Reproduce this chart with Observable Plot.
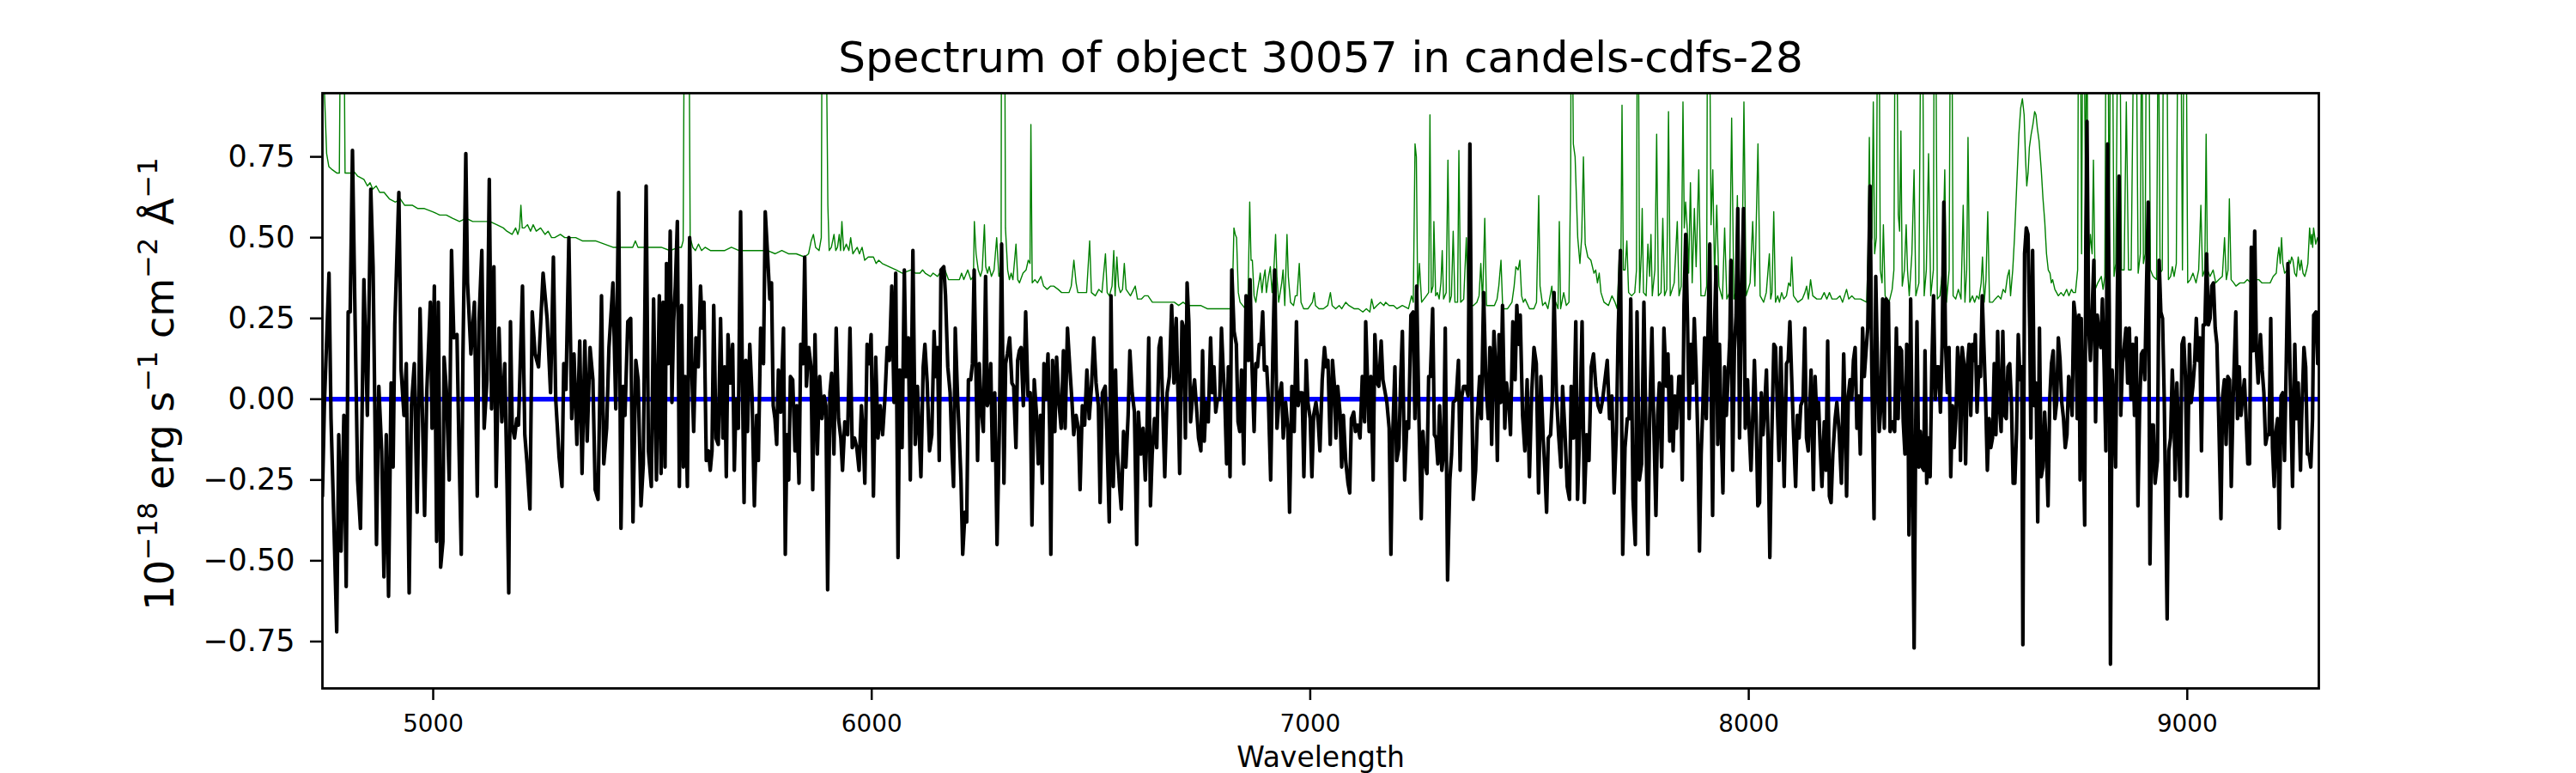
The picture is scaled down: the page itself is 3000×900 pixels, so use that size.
<!DOCTYPE html>
<html>
<head>
<meta charset="utf-8">
<script src="https://cdn.jsdelivr.net/npm/d3@7"></script>
<script src="https://cdn.jsdelivr.net/npm/@observablehq/plot@0.6"></script>
<style>
  html, body { margin: 0; padding: 0; background: #fff; overflow: hidden; }
  #chart { width: 3000px; height: 900px; }
</style>
</head>
<body>
<div id="chart"></div>
<script>
const titleText = "Spectrum of object 30057 in candels-cdfs-28";
const xLabelText = "Wavelength";
const yLabelPlain = "10-18 erg s-1 cm-2 Å-1";
const xTicks = [5000, 6000, 7000, 8000, 9000];
const yTicks = [-0.75, -0.5, -0.25, 0, 0.25, 0.5, 0.75];
const xDomain = [4747.4, 9300];
const yDomain = [-0.895, 0.947];

// model (blue) continuum
const modelPoints = [[4747.4, 0], [9300, 0]];

// observed flux (black) [wavelength, flux]
const fluxPoints = [
[4747.4,-0.30],[4752.0,-0.01],[4762.4,0.39],[4767.0,-0.06],[4773.5,-0.38],[4780.0,-0.72],[4784.6,-0.11],[4789.8,-0.47],[4796.3,-0.05],[4801.6,-0.58],
[4806.1,0.27],[4810.7,0.27],[4815.9,0.77],[4821.1,0.31],[4827.7,-0.25],[4834.2,-0.40],[4842.0,0.37],[4849.9,-0.05],[4857.7,0.65],[4862.9,0.41],
[4870.7,-0.45],[4876.0,0.04],[4882.5,-0.16],[4887.7,-0.55],[4893.0,-0.11],[4898.2,-0.61],[4904.0,0.05],[4908.6,-0.21],[4912.5,0.23],[4921.7,0.64],
[4926.9,0.09],[4933.4,-0.05],[4938.6,0.11],[4945.2,-0.60],[4950.4,-0.02],[4956.9,0.11],[4963.4,-0.35],[4970.0,0.28],[4975.2,-0.03],[4980.4,-0.36],
[4985.6,0.03],[4993.5,0.30],[4997.4,-0.09],[5002.6,0.35],[5007.8,-0.44],[5011.7,0.30],[5017.0,-0.52],[5022.2,-0.44],[5024.8,0.13],[5030.0,0.03],
[5036.5,-0.25],[5041.8,0.46],[5047.0,0.19],[5054.2,0.20],[5058.7,-0.14],[5064.0,-0.48],[5067.9,0.14],[5074.4,0.76],[5078.3,0.36],[5086.1,0.14],
[5094.0,0.30],[5100.5,-0.30],[5104.4,0.24],[5110.9,0.46],[5116.2,-0.09],[5122.7,0.06],[5127.9,0.68],[5133.1,-0.03],[5138.4,0.41],[5143.6,-0.27],
[5150.1,0.22],[5156.6,-0.07],[5163.2,0.11],[5168.4,-0.26],[5172.3,-0.60],[5176.2,0.24],[5180.1,-0.08],[5185.4,-0.12],[5190.6,-0.06],[5194.5,-0.08],
[5203.6,0.35],[5208.9,-0.11],[5214.1,-0.20],[5220.6,-0.34],[5225.8,0.27],[5232.4,0.14],[5240.2,0.10],[5250.6,0.39],[5259.8,0.25],[5267.6,0.02],
[5274.1,0.44],[5279.4,0.00],[5287.2,-0.18],[5293.7,-0.27],[5297.7,0.11],[5302.8,0.03],[5309.4,0.50],[5315.9,-0.06],[5321.1,0.14],[5327.7,-0.14],
[5334.2,0.18],[5339.4,-0.23],[5345.9,0.18],[5351.1,-0.13],[5357.7,0.16],[5364.2,0.06],[5369.4,-0.28],[5375.9,-0.31],[5383.8,0.32],[5389.0,-0.20],
[5395.5,-0.09],[5400.8,0.16],[5409.9,0.36],[5416.4,-0.03],[5422.9,0.64],[5428.2,-0.40],[5433.4,0.04],[5437.3,-0.05],[5443.8,0.24],[5450.4,0.25],
[5455.6,-0.38],[5462.1,0.12],[5467.3,0.06],[5473.9,-0.33],[5479.1,-0.20],[5485.6,0.66],[5490.8,-0.16],[5497.4,-0.27],[5502.6,0.31],[5509.1,-0.25],
[5515.6,0.32],[5519.6,-0.23],[5524.1,0.30],[5528.7,-0.21],[5532.0,0.42],[5535.9,0.11],[5540.5,0.52],[5544.4,-0.01],[5548.3,0.24],[5552.2,0.35],
[5556.8,0.55],[5561.3,-0.27],[5566.6,0.29],[5570.5,-0.21],[5574.4,0.07],[5579.6,-0.27],[5584.8,0.50],[5590.1,0.07],[5594.0,-0.10],[5599.2,0.19],
[5604.4,0.10],[5609.6,0.35],[5613.6,0.22],[5617.5,0.30],[5622.7,-0.19],[5627.9,-0.16],[5631.8,-0.22],[5635.8,-0.16],[5639.7,0.29],[5644.9,-0.12],
[5650.1,-0.14],[5655.3,0.25],[5660.6,-0.12],[5664.5,0.10],[5668.4,-0.24],[5672.3,0.20],[5677.5,0.05],[5682.8,0.17],[5686.7,-0.22],[5690.6,0.00],
[5695.8,-0.09],[5701.0,0.58],[5705.0,0.07],[5708.9,-0.32],[5712.8,0.12],[5716.7,-0.10],[5721.9,0.17],[5727.1,0.01],[5732.4,-0.33],[5737.6,-0.05],
[5741.5,-0.19],[5746.7,0.22],[5753.2,0.11],[5757.2,0.58],[5762.4,0.45],[5767.6,0.31],[5771.5,0.36],[5775.4,-0.02],[5779.4,-0.06],[5783.3,-0.14],
[5787.2,0.09],[5792.4,-0.04],[5798.9,0.22],[5802.9,-0.48],[5806.8,-0.11],[5810.7,-0.25],[5814.6,0.07],[5819.8,0.06],[5825.0,-0.16],[5829.0,-0.02],
[5834.2,-0.26],[5838.1,0.17],[5843.3,0.11],[5847.2,0.44],[5851.1,0.04],[5856.4,0.16],[5861.6,0.10],[5865.5,-0.28],[5870.7,0.20],[5876.0,-0.17],
[5881.2,0.07],[5886.4,-0.06],[5891.6,0.01],[5895.5,-0.02],[5899.5,-0.59],[5904.7,0.02],[5908.6,0.08],[5913.8,-0.17],[5919.0,0.22],[5924.3,-0.06],
[5929.5,-0.12],[5933.4,-0.22],[5938.6,-0.07],[5945.1,-0.11],[5950.4,0.22],[5955.6,-0.15],[5960.8,-0.12],[5966.0,-0.15],[5971.2,-0.22],[5976.5,-0.02],
[5980.4,-0.11],[5984.3,-0.26],[5989.5,0.17],[5994.7,0.11],[5998.6,0.20],[6003.9,-0.30],[6009.1,0.13],[6014.3,-0.12],[6019.5,-0.02],[6024.8,-0.11],
[6030.0,0.00],[6035.2,0.16],[6040.4,0.12],[6045.7,0.35],[6050.9,-0.01],[6054.8,0.39],[6060.0,-0.49],[6063.9,0.09],[6069.2,-0.15],[6074.4,0.40],
[6078.3,0.07],[6083.5,0.19],[6088.0,-0.25],[6093.9,0.46],[6099.1,-0.14],[6104.3,0.04],[6108.3,-0.11],[6112.2,-0.24],[6117.4,0.10],[6121.3,0.17],
[6126.5,0.05],[6131.8,-0.16],[6137.0,-0.11],[6142.2,0.21],[6146.1,0.07],[6150.0,0.16],[6154.0,-0.19],[6157.9,0.40],[6164.4,0.41],[6168.3,0.32],
[6173.5,0.10],[6178.8,0.02],[6182.7,-0.15],[6186.6,-0.27],[6190.5,0.22],[6195.7,0.01],[6199.6,-0.11],[6203.6,-0.25],[6207.5,-0.48],[6212.7,-0.35],
[6216.6,-0.38],[6220.5,0.06],[6225.7,0.06],[6229.7,0.11],[6233.6,0.40],[6237.5,0.10],[6241.4,-0.19],[6245.3,0.11],[6249.2,-0.02],[6254.5,-0.10],
[6259.7,0.38],[6263.6,-0.02],[6267.5,0.00],[6271.4,0.11],[6275.4,-0.19],[6280.6,0.02],[6285.8,-0.45],[6291.0,-0.10],[6296.2,0.48],[6301.5,-0.26],
[6305.4,0.11],[6309.3,0.14],[6314.5,0.19],[6319.7,0.05],[6323.7,0.04],[6328.9,-0.15],[6332.8,0.12],[6336.7,0.15],[6340.6,0.16],[6345.8,-0.02],
[6351.1,0.27],[6356.3,0.01],[6361.5,0.02],[6365.4,-0.39],[6370.6,0.06],[6375.9,-0.05],[6379.8,-0.20],[6385.0,-0.05],[6388.9,-0.26],[6392.8,0.11],
[6396.8,0.00],[6402.0,0.14],[6405.9,-0.10],[6408.5,-0.48],[6412.4,0.12],[6417.6,-0.10],[6421.6,0.13],[6426.8,-0.01],[6432.0,-0.09],[6437.2,0.15],
[6441.1,-0.09],[6446.4,0.22],[6451.6,0.10],[6456.8,-0.01],[6460.7,-0.11],[6466.0,-0.05],[6471.2,-0.09],[6475.1,-0.28],[6480.3,-0.02],[6485.5,-0.08],
[6490.7,0.09],[6496.0,-0.06],[6501.2,0.04],[6506.4,0.19],[6511.6,0.05],[6516.9,-0.02],[6520.8,-0.32],[6526.0,0.02],[6532.5,0.04],[6536.4,-0.11],
[6541.7,-0.38],[6545.6,0.32],[6550.8,-0.27],[6556.0,0.09],[6559.9,-0.16],[6565.2,-0.27],[6569.1,-0.34],[6574.3,-0.10],[6579.5,-0.21],[6584.7,-0.05],
[6588.7,0.15],[6593.9,0.02],[6599.1,-0.04],[6604.3,-0.45],[6608.2,-0.04],[6613.5,-0.17],[6618.7,-0.09],[6623.9,-0.25],[6627.8,-0.09],[6631.7,0.19],
[6635.6,-0.33],[6639.6,-0.17],[6644.8,-0.06],[6650.0,-0.15],[6655.2,0.16],[6659.2,0.19],[6664.4,-0.06],[6668.3,-0.24],[6673.6,0.02],[6678.8,0.07],
[6684.0,0.29],[6689.2,0.05],[6694.4,0.25],[6698.4,0.02],[6702.3,-0.23],[6707.5,0.24],[6711.4,0.22],[6715.3,-0.12],[6719.2,0.36],[6723.2,0.24],
[6727.1,-0.07],[6732.3,0.02],[6736.2,0.06],[6741.4,-0.04],[6745.3,-0.12],[6750.6,-0.16],[6754.5,0.15],[6758.4,-0.13],[6762.3,-0.01],[6767.5,-0.07],
[6772.8,0.19],[6776.7,0.02],[6780.6,0.10],[6784.5,-0.04],[6788.4,0.00],[6793.6,0.00],[6797.6,0.22],[6801.5,0.09],[6805.4,-0.01],[6809.3,-0.20],
[6813.2,0.10],[6817.1,-0.24],[6821.1,0.40],[6826.3,0.21],[6831.5,0.17],[6835.4,-0.07],[6839.3,-0.10],[6843.3,0.09],[6848.5,-0.20],[6853.7,0.32],
[6858.9,0.12],[6862.8,0.37],[6866.8,0.12],[6872.0,-0.10],[6875.9,0.11],[6879.8,0.10],[6883.7,0.17],[6887.6,0.17],[6891.6,0.27],[6895.5,0.09],
[6900.7,0.10],[6904.6,0.00],[6909.8,-0.25],[6915.0,0.16],[6919.0,0.40],[6924.2,-0.09],[6929.4,0.01],[6934.6,0.05],[6938.5,-0.12],[6943.8,-0.01],
[6949.0,-0.09],[6952.9,-0.35],[6958.1,0.04],[6963.4,-0.10],[6968.6,0.24],[6972.5,-0.02],[6976.4,0.02],[6981.6,0.02],[6985.5,-0.24],[6990.8,0.12],
[6994.7,-0.01],[6999.9,-0.06],[7003.8,-0.24],[7007.7,-0.05],[7013.0,-0.01],[7018.2,-0.07],[7022.1,-0.16],[7027.3,0.06],[7032.5,0.16],[7036.5,0.10],
[7040.4,0.12],[7045.6,-0.14],[7050.8,0.12],[7054.7,0.05],[7058.6,-0.12],[7062.6,0.04],[7067.8,-0.04],[7071.7,-0.21],[7075.6,-0.05],[7080.8,-0.19],
[7086.1,-0.26],[7090.0,-0.29],[7093.9,-0.06],[7099.1,-0.04],[7103.0,-0.10],[7108.2,-0.08],[7113.5,-0.12],[7118.7,0.07],[7123.9,-0.07],[7126.5,0.24],
[7130.4,0.07],[7134.4,-0.10],[7138.3,0.07],[7143.5,-0.25],[7147.4,0.20],[7152.6,0.05],[7156.5,0.04],[7161.8,0.18],[7165.7,0.06],[7170.9,0.02],
[7174.8,-0.01],[7180.0,-0.09],[7184.0,-0.48],[7187.9,-0.12],[7193.1,0.10],[7197.0,-0.19],[7202.2,-0.15],[7206.2,0.06],[7210.1,0.21],[7215.3,-0.25],
[7220.5,-0.07],[7224.4,-0.09],[7229.6,0.26],[7234.8,0.27],[7238.7,-0.06],[7242.7,0.35],[7247.9,-0.06],[7253.1,-0.37],[7257.0,-0.10],[7260.9,-0.19],
[7266.2,-0.23],[7270.1,0.07],[7274.0,0.07],[7279.2,0.28],[7283.1,-0.11],[7287.0,-0.12],[7291.0,-0.20],[7294.9,-0.02],[7300.1,-0.22],[7304.0,-0.17],
[7307.9,0.22],[7313.2,-0.56],[7318.4,-0.25],[7322.3,-0.17],[7326.2,-0.01],[7332.7,0.00],[7338.0,0.12],[7341.9,-0.22],[7345.8,0.01],[7349.7,0.04],
[7354.9,0.04],[7360.1,0.01],[7364.1,0.79],[7368.0,0.07],[7371.9,-0.31],[7377.1,-0.22],[7381.0,-0.06],[7386.3,0.07],[7390.2,-0.06],[7395.4,0.33],
[7400.6,0.05],[7405.8,-0.06],[7409.7,0.16],[7413.7,-0.14],[7418.9,0.21],[7422.8,0.10],[7426.7,-0.19],[7430.6,0.20],[7434.6,-0.01],[7438.5,0.29],
[7443.7,-0.09],[7447.6,0.05],[7452.8,-0.01],[7456.7,-0.11],[7462.0,0.24],[7467.2,0.06],[7471.1,0.29],[7475.0,0.17],[7478.9,0.26],[7484.2,-0.05],
[7489.4,-0.16],[7494.6,0.06],[7499.8,-0.24],[7505.0,0.02],[7510.3,0.16],[7515.5,0.11],[7520.7,-0.29],[7525.9,0.07],[7531.2,-0.12],[7535.1,-0.22],
[7539.0,-0.35],[7542.9,-0.12],[7548.1,-0.11],[7552.0,0.00],[7556.0,0.33],[7561.2,0.02],[7566.4,-0.11],[7571.6,-0.21],[7575.5,0.04],[7580.8,-0.10],
[7586.0,-0.27],[7591.2,-0.31],[7595.1,0.04],[7600.3,-0.12],[7605.6,0.24],[7609.5,-0.31],[7614.7,-0.09],[7619.9,0.24],[7625.1,-0.32],[7630.4,-0.11],
[7635.6,-0.19],[7640.8,0.10],[7646.0,0.14],[7651.2,0.04],[7656.5,-0.02],[7661.7,-0.04],[7666.9,0.00],[7672.1,0.06],[7677.3,0.12],[7682.6,-0.06],
[7687.8,0.01],[7693.0,-0.29],[7698.2,-0.10],[7702.1,0.20],[7707.4,0.46],[7712.6,-0.48],[7717.8,-0.15],[7723.0,-0.06],[7727.0,-0.06],[7730.9,0.31],
[7736.1,-0.31],[7741.3,-0.45],[7745.2,0.27],[7750.5,-0.25],[7755.7,-0.20],[7760.9,0.30],[7766.1,-0.15],[7770.0,-0.48],[7774.0,-0.06],[7779.2,0.22],
[7783.1,-0.06],[7788.3,-0.36],[7792.2,-0.05],[7796.2,0.05],[7801.4,-0.21],[7806.6,0.22],[7811.9,0.04],[7815.8,0.14],[7819.7,-0.13],[7823.6,0.07],
[7827.5,-0.16],[7831.4,0.01],[7835.4,-0.09],[7840.6,0.07],[7844.5,0.07],[7848.4,-0.25],[7852.3,0.29],[7856.2,0.51],[7860.2,0.25],[7864.1,-0.06],
[7868.0,0.17],[7871.9,0.05],[7875.8,0.25],[7879.7,0.10],[7883.7,-0.11],[7887.6,-0.47],[7891.5,-0.17],[7895.4,-0.02],[7899.3,0.19],[7903.2,-0.06],
[7907.2,0.22],[7911.1,0.48],[7915.0,-0.06],[7917.6,-0.36],[7921.5,0.21],[7925.4,0.41],[7929.3,-0.14],[7933.3,0.17],[7937.2,-0.09],[7941.1,-0.29],
[7945.0,0.10],[7948.9,-0.05],[7952.9,0.07],[7956.8,0.19],[7959.4,0.43],[7963.3,-0.22],[7967.2,0.15],[7971.1,0.26],[7975.0,0.59],[7979.0,-0.12],
[7982.9,0.25],[7988.1,0.59],[7992.0,-0.09],[7997.2,0.06],[8001.2,-0.10],[8005.1,-0.22],[8009.0,-0.06],[8012.9,0.12],[8016.8,-0.05],[8020.7,-0.33],
[8024.6,-0.32],[8028.6,0.02],[8032.5,-0.11],[8036.4,-0.02],[8040.3,0.09],[8044.2,-0.14],[8048.1,-0.49],[8052.1,-0.14],[8057.3,0.17],[8061.2,0.16],
[8065.1,-0.02],[8069.0,-0.19],[8073.0,0.16],[8076.9,-0.04],[8080.8,-0.27],[8086.0,0.11],[8089.9,0.12],[8093.8,0.24],[8097.8,0.07],[8101.7,-0.09],
[8106.9,-0.27],[8110.8,-0.05],[8114.7,-0.12],[8118.6,-0.02],[8123.9,0.00],[8127.8,0.22],[8131.7,-0.12],[8135.6,-0.16],[8138.2,-0.06],[8142.1,0.09],
[8147.4,-0.28],[8151.3,0.07],[8155.2,-0.06],[8159.1,-0.01],[8163.0,-0.15],[8166.9,-0.27],[8172.2,-0.07],[8176.1,-0.22],[8180.0,0.18],[8183.9,-0.30],
[8187.8,-0.32],[8191.7,-0.17],[8197.0,-0.06],[8200.9,-0.01],[8206.1,-0.10],[8211.3,-0.26],[8216.5,0.14],[8219.2,-0.02],[8223.1,-0.30],[8227.0,0.01],
[8230.9,0.06],[8234.8,0.00],[8238.7,0.12],[8242.6,0.16],[8246.6,-0.09],[8250.5,0.01],[8254.4,-0.17],[8259.6,0.22],[8263.5,0.07],[8267.5,0.15],
[8271.4,0.22],[8276.6,0.66],[8280.5,0.10],[8285.7,-0.37],[8289.6,0.38],[8293.6,0.10],[8297.5,-0.10],[8301.4,-0.02],[8305.3,0.31],[8309.2,-0.09],
[8313.1,0.31],[8318.4,0.30],[8322.3,-0.10],[8327.5,-0.07],[8332.7,-0.10],[8336.6,0.22],[8340.6,-0.06],[8344.5,0.16],[8348.4,0.15],[8352.3,-0.07],
[8356.2,-0.17],[8360.2,0.17],[8362.7,0.07],[8365.3,-0.42],[8369.2,0.31],[8373.1,-0.20],[8377.1,-0.77],[8381.0,-0.05],[8383.6,0.24],[8387.5,-0.21],
[8391.4,-0.10],[8395.3,-0.21],[8399.2,-0.22],[8401.9,0.15],[8405.8,-0.26],[8409.7,-0.12],[8413.6,-0.24],[8417.5,0.10],[8421.4,0.32],[8425.4,0.00],
[8429.3,0.10],[8433.2,0.10],[8437.1,-0.04],[8441.0,0.17],[8444.9,0.61],[8448.8,0.17],[8452.8,0.02],[8456.7,0.16],[8460.6,-0.24],[8464.5,-0.02],
[8468.4,-0.15],[8472.3,-0.06],[8476.3,0.16],[8480.2,0.10],[8482.8,-0.19],[8486.7,0.16],[8490.6,0.11],[8494.5,-0.20],[8498.5,0.10],[8502.4,0.17],
[8506.3,-0.05],[8510.2,0.17],[8514.1,0.12],[8516.7,0.20],[8520.6,-0.04],[8524.6,0.10],[8528.5,0.07],[8532.4,0.32],[8536.3,0.16],[8540.2,0.00],
[8544.1,-0.22],[8548.1,-0.06],[8552.0,-0.15],[8555.9,-0.12],[8559.8,0.11],[8563.7,-0.11],[8567.6,0.21],[8571.6,-0.02],[8575.5,-0.10],[8579.4,0.21],
[8583.3,-0.05],[8587.2,-0.06],[8591.1,0.10],[8595.1,0.11],[8599.0,-0.01],[8602.9,-0.26],[8606.8,-0.26],[8610.7,-0.10],[8614.6,0.20],[8618.5,0.06],
[8622.5,0.10],[8625.1,-0.76],[8629.0,0.45],[8632.9,0.53],[8636.8,0.51],[8640.7,0.22],[8643.4,-0.12],[8647.3,0.46],[8651.2,-0.02],[8655.1,0.05],
[8659.0,-0.38],[8662.9,0.22],[8666.9,-0.24],[8670.8,-0.21],[8674.7,-0.04],[8678.6,-0.15],[8682.5,-0.33],[8686.4,0.00],[8690.3,0.11],[8694.3,0.15],
[8698.2,-0.06],[8702.1,-0.01],[8706.0,0.19],[8709.9,0.12],[8713.8,-0.01],[8717.8,-0.06],[8721.7,-0.15],[8725.6,-0.11],[8729.5,0.07],[8733.4,0.02],
[8737.3,-0.05],[8741.3,0.30],[8745.2,0.25],[8749.1,-0.06],[8753.0,0.26],[8755.6,-0.25],[8758.2,0.25],[8762.1,-0.07],[8766.1,-0.39],[8768.7,0.50],
[8771.3,0.86],[8775.2,0.22],[8779.1,0.12],[8783.0,0.27],[8787.0,0.43],[8790.9,-0.07],[8794.8,0.26],[8798.7,0.20],[8802.6,0.16],[8806.5,0.31],
[8810.4,0.10],[8814.4,-0.16],[8818.3,0.79],[8822.2,0.27],[8824.8,-0.82],[8828.7,0.09],[8832.6,-0.02],[8836.6,-0.21],[8840.5,0.32],[8844.4,0.69],
[8848.3,-0.05],[8852.2,0.11],[8856.1,0.16],[8860.1,0.22],[8864.0,0.05],[8867.9,0.22],[8871.8,0.00],[8875.7,0.17],[8879.6,-0.05],[8883.6,0.19],
[8887.5,-0.33],[8891.4,-0.02],[8895.3,0.14],[8899.2,0.15],[8903.1,0.06],[8907.1,0.35],[8911.0,0.61],[8914.9,-0.51],[8918.8,-0.08],[8922.7,-0.08],
[8926.6,-0.26],[8931.9,-0.19],[8935.8,0.43],[8939.7,0.27],[8943.6,0.25],[8947.5,0.00],[8954.1,-0.68],[8958.0,-0.16],[8961.9,-0.12],[8965.8,0.09],
[8969.7,-0.04],[8972.3,-0.25],[8976.3,0.05],[8980.2,-0.11],[8984.1,-0.30],[8988.0,0.17],[8991.9,0.19],[8995.8,0.07],[8999.8,-0.30],[9005.0,0.17],
[9008.9,-0.01],[9012.8,0.04],[9016.7,0.11],[9020.6,0.25],[9024.6,0.12],[9028.5,0.19],[9032.4,-0.16],[9036.3,0.23],[9040.2,0.23],[9044.1,0.45],
[9048.1,0.23],[9052.0,0.25],[9055.9,0.35],[9059.8,0.36],[9063.7,0.22],[9067.6,0.17],[9071.6,-0.05],[9076.8,-0.37],[9080.7,0.01],[9084.6,0.06],
[9088.5,-0.14],[9092.4,0.07],[9096.4,0.06],[9100.3,-0.27],[9104.2,-0.02],[9110.7,0.27],[9114.6,-0.06],[9118.5,0.10],[9122.5,-0.05],[9126.4,0.01],
[9130.3,0.06],[9134.2,-0.06],[9138.1,-0.20],[9142.0,-0.20],[9146.0,0.47],[9149.9,0.15],[9153.8,0.52],[9157.7,0.15],[9161.6,0.05],[9166.9,0.20],
[9170.8,0.09],[9174.7,0.02],[9178.6,-0.14],[9182.5,-0.11],[9186.4,-0.11],[9190.4,0.25],[9194.3,-0.15],[9198.2,-0.27],[9202.1,-0.10],[9206.0,-0.06],
[9209.9,-0.40],[9213.9,0.01],[9217.8,0.02],[9221.7,-0.19],[9225.6,0.10],[9229.5,0.42],[9234.7,0.07],[9240.0,-0.27],[9245.2,0.17],[9249.1,-0.06],
[9253.0,0.05],[9258.2,-0.22],[9260.8,-0.06],[9266.1,0.16],[9270.0,0.10],[9273.9,-0.17],[9277.8,-0.17],[9281.7,-0.21],[9285.6,-0.06],[9288.3,0.26],
[9293.5,0.27],[9297.4,0.11],[9300.0,0.27]
];

// flux uncertainty / sky (green) [wavelength, value]; spikes leave the frame at the top
const errorPoints = [
[4747.4,1.3],[4752,0.95],[4757,0.76],[4762,0.72],[4770,0.71],[4780,0.70],[4786,0.70],[4789,1.3],[4796,1.3],[4799,0.70],
[4806,0.70],[4812,0.70],[4816,0.71],[4828,0.69],[4842,0.68],[4850,0.66],[4856,0.67],[4862,0.65],[4870,0.66],[4878,0.64],
[4888,0.64],[4900,0.62],[4914,0.61],[4925,0.62],[4935,0.60],[4953,0.60],[4965,0.59],[4980,0.59],[4999,0.58],[5015,0.57],
[5030,0.57],[5044,0.56],[5060,0.55],[5075,0.56],[5090,0.55],[5110,0.55],[5129,0.55],[5145,0.54],[5160,0.53],[5168,0.52],
[5180,0.51],[5188,0.53],[5193,0.51],[5197,0.53],[5200,0.60],[5203,0.53],[5208,0.53],[5215,0.54],[5222,0.52],[5228,0.54],
[5235,0.52],[5245,0.53],[5255,0.51],[5262,0.52],[5270,0.50],[5277,0.50],[5290,0.51],[5300,0.50],[5312,0.50],[5325,0.50],
[5340,0.49],[5351,0.49],[5370,0.49],[5390,0.48],[5410,0.47],[5425,0.47],[5442,0.47],[5455,0.47],[5461,0.49],[5467,0.47],
[5480,0.47],[5500,0.47],[5520,0.47],[5540,0.46],[5560,0.47],[5566,0.47],[5570,0.49],[5573,1.3],[5583,1.3],[5586,0.50],
[5592,0.47],[5598,0.46],[5605,0.48],[5612,0.46],[5620,0.47],[5632,0.46],[5650,0.46],[5665,0.46],[5680,0.47],[5697,0.46],
[5715,0.46],[5730,0.46],[5745,0.46],[5762,0.46],[5780,0.45],[5795,0.46],[5810,0.45],[5828,0.45],[5847,0.44],[5856,0.45],
[5862,0.49],[5867,0.51],[5872,0.47],[5880,0.46],[5885,0.50],[5887,1.3],[5895,1.3],[5898,0.89],[5900,0.60],[5903,0.46],
[5908,0.47],[5914,0.51],[5918,0.46],[5922,0.47],[5926,0.51],[5929,0.46],[5932,0.55],[5936,0.46],[5942,0.48],[5948,0.46],
[5952,0.50],[5957,0.45],[5962,0.46],[5967,0.47],[5972,0.45],[5978,0.47],[5984,0.43],[5992,0.44],[6004,0.44],[6010,0.42],
[6016,0.43],[6024,0.42],[6040,0.41],[6056,0.40],[6070,0.39],[6089,0.40],[6100,0.39],[6110,0.39],[6116,0.40],[6122,0.39],
[6134,0.38],[6140,0.39],[6150,0.38],[6155,0.39],[6162,0.38],[6167,0.40],[6175,0.37],[6190,0.37],[6200,0.37],[6205,0.39],
[6210,0.37],[6219,0.40],[6226,0.37],[6232,0.38],[6234,0.55],[6238,0.45],[6243,0.40],[6248,0.38],[6252,0.40],[6257,0.54],
[6260,0.41],[6264,0.39],[6268,0.41],[6273,0.38],[6279,0.40],[6285,0.50],[6290,0.38],[6295,0.40],[6296,1.3],[6303,1.3],
[6305,0.53],[6310,0.40],[6314,0.37],[6318,0.39],[6322,0.37],[6329,0.48],[6333,0.37],[6337,0.36],[6345,0.39],[6352,0.40],
[6357,0.43],[6361,0.42],[6363,0.85],[6366,0.36],[6372,0.37],[6378,0.36],[6386,0.38],[6392,0.35],[6400,0.34],[6408,0.35],
[6415,0.35],[6425,0.34],[6433,0.33],[6441,0.33],[6450,0.33],[6455,0.35],[6461,0.43],[6466,0.36],[6470,0.33],[6480,0.33],
[6490,0.33],[6497,0.49],[6501,0.33],[6510,0.32],[6518,0.34],[6525,0.33],[6533,0.45],[6537,0.33],[6542,0.32],[6548,0.35],
[6552,0.46],[6555,0.32],[6559,0.44],[6563,0.35],[6567,0.33],[6572,0.34],[6576,0.42],[6580,0.34],[6590,0.32],[6601,0.35],
[6606,0.31],[6615,0.31],[6622,0.32],[6630,0.32],[6640,0.30],[6657,0.30],[6670,0.30],[6690,0.30],[6700,0.29],[6710,0.30],
[6720,0.29],[6735,0.29],[6750,0.29],[6765,0.28],[6787,0.28],[6800,0.28],[6817,0.28],[6822,0.30],[6826,0.53],[6829,0.51],
[6832,0.50],[6836,0.33],[6840,0.30],[6846,0.29],[6852,0.28],[6858,0.30],[6862,0.61],[6865,0.43],[6868,0.43],[6872,0.32],
[6876,0.30],[6880,0.34],[6884,0.37],[6886,0.39],[6890,0.33],[6893,0.37],[6897,0.40],[6900,0.33],[6905,0.38],[6909,0.41],
[6913,0.33],[6917,0.40],[6921,0.51],[6924,0.38],[6928,0.30],[6935,0.36],[6938,0.40],[6942,0.29],[6947,0.51],[6950,0.38],
[6955,0.30],[6962,0.29],[6966,0.32],[6970,0.32],[6975,0.42],[6979,0.30],[6985,0.28],[6995,0.28],[7000,0.29],[7005,0.30],
[7009,0.33],[7012,0.29],[7020,0.28],[7030,0.28],[7040,0.29],[7046,0.33],[7050,0.29],[7058,0.28],[7066,0.29],[7072,0.28],
[7081,0.30],[7088,0.29],[7100,0.28],[7110,0.28],[7120,0.27],[7128,0.28],[7136,0.27],[7140,0.31],[7145,0.28],[7152,0.29],
[7160,0.30],[7168,0.29],[7172,0.30],[7180,0.29],[7190,0.29],[7198,0.28],[7210,0.29],[7224,0.28],[7231,0.32],[7235,0.30],
[7239,0.79],[7242,0.75],[7245,0.32],[7249,0.42],[7254,0.30],[7265,0.32],[7270,0.33],[7273,0.88],[7276,0.33],[7280,0.35],
[7282,0.55],[7286,0.32],[7290,0.33],[7294,0.31],[7298,0.36],[7301,0.46],[7304,0.31],[7310,0.33],[7314,0.74],[7318,0.30],
[7322,0.32],[7326,0.52],[7330,0.30],[7336,0.30],[7339,0.77],[7343,0.30],[7350,0.31],[7356,0.50],[7360,0.29],[7372,0.29],
[7380,0.30],[7385,0.32],[7389,0.42],[7393,0.30],[7398,0.56],[7402,0.29],[7412,0.29],[7420,0.29],[7426,0.31],[7430,0.35],
[7435,0.43],[7439,0.28],[7450,0.28],[7460,0.30],[7465,0.35],[7469,0.41],[7474,0.40],[7478,0.43],[7482,0.32],[7486,0.30],
[7490,0.31],[7500,0.28],[7510,0.28],[7516,0.30],[7521,0.63],[7524,0.35],[7530,0.29],[7536,0.30],[7542,0.28],[7551,0.35],
[7555,0.27],[7560,0.30],[7565,0.28],[7568,0.55],[7571,0.28],[7578,0.33],[7584,0.29],[7590,0.30],[7594,0.70],[7595,1.3],
[7597,1.3],[7600,0.79],[7604,0.75],[7610,0.50],[7615,0.42],[7619,0.50],[7623,0.75],[7627,0.48],[7633,0.44],[7640,0.43],
[7647,0.39],[7651,0.40],[7655,0.36],[7659,0.39],[7663,0.33],[7670,0.30],[7680,0.29],[7688,0.32],[7695,0.30],[7700,0.28],
[7705,0.45],[7708,0.35],[7711,0.91],[7714,0.40],[7718,0.40],[7722,0.49],[7726,0.33],[7733,0.32],[7740,0.33],[7744,0.40],
[7746,1.3],[7748,1.3],[7751,0.33],[7755,0.45],[7757,0.59],[7760,0.33],[7766,0.32],[7770,0.48],[7774,0.38],[7777,0.51],
[7780,0.32],[7786,0.40],[7790,0.82],[7794,0.32],[7800,0.33],[7804,0.56],[7808,0.32],[7813,0.34],[7817,0.89],[7821,0.32],
[7830,0.36],[7837,0.55],[7841,0.32],[7846,0.35],[7850,0.92],[7853,0.53],[7856,0.61],[7860,0.52],[7863,0.39],[7867,0.67],
[7871,0.36],[7876,0.59],[7880,0.41],[7886,0.71],[7891,0.32],[7900,0.32],[7904,0.35],[7906,1.3],[7910,1.3],[7914,0.54],
[7918,0.71],[7922,0.38],[7927,0.60],[7932,0.35],[7940,0.31],[7945,0.53],[7950,0.31],[7956,0.33],[7961,0.87],[7966,0.31],
[7970,0.33],[7974,0.63],[7978,0.32],[7984,0.33],[7989,0.92],[7994,0.32],[8003,0.36],[8009,0.55],[8014,0.35],[8021,0.79],
[8026,0.32],[8034,0.30],[8040,0.33],[8047,0.45],[8050,0.31],[8053,0.33],[8057,0.58],[8061,0.30],[8066,0.32],[8070,0.30],
[8075,0.33],[8080,0.31],[8086,0.32],[8091,0.36],[8095,0.35],[8098,0.44],[8102,0.32],[8112,0.30],[8122,0.31],[8128,0.33],
[8132,0.35],[8136,0.31],[8141,0.37],[8146,0.32],[8155,0.31],[8165,0.31],[8172,0.33],[8178,0.31],[8184,0.33],[8190,0.31],
[8200,0.31],[8208,0.32],[8214,0.30],[8223,0.34],[8228,0.31],[8235,0.32],[8242,0.31],[8255,0.31],[8269,0.30],[8272,0.45],
[8275,0.81],[8278,0.48],[8281,0.50],[8284,0.92],[8287,0.45],[8291,0.50],[8294,1.3],[8297,1.3],[8300,0.40],[8304,0.36],
[8307,0.54],[8311,0.32],[8320,0.30],[8327,0.34],[8331,0.40],[8334,1.3],[8337,1.3],[8341,0.57],[8344,0.52],[8347,0.83],
[8350,0.35],[8355,0.40],[8359,0.54],[8362,0.40],[8366,0.32],[8372,0.45],[8377,0.71],[8381,0.32],[8388,0.36],[8393,1.3],
[8396,1.3],[8400,0.32],[8405,0.40],[8410,0.76],[8415,0.32],[8421,0.40],[8423,1.3],[8426,1.3],[8430,0.31],[8436,0.32],
[8442,0.40],[8447,0.71],[8451,0.30],[8457,0.40],[8460,1.3],[8463,1.3],[8466,0.32],[8472,0.31],[8478,0.34],[8484,0.31],
[8489,0.60],[8493,0.30],[8497,0.40],[8500,0.81],[8504,0.30],[8510,0.32],[8515,0.30],[8520,0.32],[8525,0.31],[8530,0.36],
[8533,0.44],[8537,0.30],[8541,0.37],[8545,0.58],[8549,0.30],[8556,0.30],[8562,0.31],[8569,0.32],[8575,0.31],[8580,0.34],
[8585,0.33],[8590,0.38],[8594,0.40],[8597,0.32],[8602,0.40],[8606,0.50],[8611,0.66],[8616,0.82],[8620,0.90],[8624,0.93],
[8628,0.88],[8631,0.75],[8634,0.66],[8637,0.70],[8640,0.78],[8644,0.82],[8648,0.85],[8652,0.89],[8655,0.88],[8658,0.84],
[8662,0.80],[8667,0.71],[8671,0.62],[8675,0.55],[8679,0.45],[8683,0.40],[8687,0.39],[8690,0.36],[8693,0.37],[8698,0.34],
[8702,0.33],[8706,0.32],[8712,0.33],[8718,0.32],[8725,0.34],[8730,0.32],[8736,0.34],[8740,0.33],[8745,0.33],[8750,0.40],
[8752,1.3],[8756,1.3],[8759,0.45],[8762,1.3],[8764,1.3],[8768,0.60],[8771,1.3],[8774,0.40],[8779,0.51],[8783,0.45],
[8786,0.74],[8790,0.34],[8796,0.36],[8804,0.38],[8808,0.34],[8812,0.38],[8815,1.3],[8819,1.3],[8822,0.40],[8825,1.3],
[8829,1.3],[8833,0.38],[8837,0.42],[8842,1.3],[8846,1.3],[8850,0.40],[8856,0.40],[8861,0.92],[8866,0.40],[8872,0.40],
[8879,1.3],[8883,1.3],[8888,0.39],[8893,0.45],[8896,1.3],[8900,0.42],[8904,0.45],[8907,1.3],[8912,1.3],[8916,0.40],
[8922,0.38],[8930,0.37],[8934,1.3],[8938,0.39],[8943,0.40],[8946,1.3],[8953,1.3],[8957,0.37],[8962,0.38],[8966,0.41],
[8970,0.38],[8975,0.42],[8979,1.3],[8985,1.3],[8989,0.40],[8993,1.3],[8997,1.3],[9001,0.36],[9007,0.37],[9013,0.39],
[9020,0.36],[9026,0.40],[9031,0.60],[9035,0.38],[9040,0.40],[9043,0.82],[9046,0.40],[9052,0.38],[9059,0.40],[9065,0.36],
[9072,0.37],[9080,0.38],[9085,0.50],[9089,0.37],[9093,0.40],[9096,0.62],[9100,0.37],[9106,0.36],[9111,0.35],[9120,0.36],
[9130,0.36],[9137,0.37],[9145,0.36],[9150,0.38],[9156,0.37],[9163,0.37],[9170,0.36],[9180,0.36],[9189,0.36],[9196,0.38],
[9203,0.39],[9206,0.44],[9209,0.47],[9212,0.42],[9215,0.50],[9218,0.42],[9222,0.39],[9228,0.40],[9232,0.43],[9235,0.42],
[9238,0.44],[9241,0.43],[9245,0.39],[9249,0.38],[9253,0.44],[9257,0.40],[9260,0.43],[9264,0.39],[9268,0.38],[9272,0.40],
[9275,0.42],[9279,0.53],[9282,0.48],[9284,0.51],[9286,0.47],[9288,0.53],[9291,0.50],[9293,0.48],[9297,0.50],[9300,0.49]
];

const font = "DejaVu Sans";

const chart = Plot.plot({
  width: 3000,
  height: 900,
  marginLeft: 375,
  marginRight: 300,
  marginTop: 108,
  marginBottom: 99,
  style: { background: "#ffffff", fontFamily: font, color: "#000000", overflow: "visible" },
  x: { type: "linear", domain: xDomain, axis: null },
  y: { type: "linear", domain: yDomain, axis: null },
  marks: [
    Plot.line(errorPoints, { x: d => d[0], y: d => d[1], stroke: "#008000", strokeWidth: 1.4, strokeLinejoin: "round", clip: true }),
    Plot.line(modelPoints, { x: d => d[0], y: d => d[1], stroke: "#0000ff", strokeWidth: 5.5, clip: true }),
    Plot.line(fluxPoints, { x: d => d[0], y: d => d[1], stroke: "#000000", strokeWidth: 4.2, strokeLinejoin: "round", clip: true }),
    Plot.axisX({ ticks: xTicks, tickFormat: d3.format("d"), tickSize: 14, tickPadding: 17, fontSize: 27.8, strokeWidth: 2.5, label: null, anchor: "bottom", fill: "#000" }),
    Plot.axisY({ ticks: yTicks, tickFormat: d3.format(".2f"), tickSize: 14, tickPadding: 18, fontSize: 35, strokeWidth: 2.5, label: null, anchor: "left", fill: "#000" }),
    Plot.frame({ stroke: "#000000", strokeWidth: 2.8 }),
    Plot.text([titleText], { text: d => d, frameAnchor: "top", dy: -41, fontSize: 50, lineAnchor: "middle", textAnchor: "middle", fill: "#000" }),
    Plot.text([xLabelText], { text: d => d, frameAnchor: "bottom", dy: 81, fontSize: 33, lineAnchor: "middle", textAnchor: "middle", fill: "#000" }),
    Plot.text([yLabelPlain], { text: d => d, frameAnchor: "left", dx: -188, dy: -8, rotate: -90, fontSize: 46, lineAnchor: "middle", textAnchor: "middle", fill: "#000" })
  ]
});

document.getElementById("chart").appendChild(chart);

// render the y label with real superscripts
const F = 46, S = Math.round(F * 0.7), R = 19;
d3.select(chart).selectAll("text").each(function () {
  if (this.textContent === yLabelPlain) {
    const t = d3.select(this);
    t.text(null);
    const parts = [["10", 0], ["\u221218", 1], [" erg s", 0], ["\u22121", 1], [" cm", 0], ["\u22122", 1], [" \u00c5", 0], ["\u22121", 1]];
    let raised = false;
    for (const [str, sup] of parts) {
      const span = t.append("tspan").text(str);
      if (sup) { span.attr("font-size", S).attr("dy", -R); raised = true; }
      else if (raised) { span.attr("font-size", F).attr("dy", R); raised = false; }
    }
  }
});
</script>
</body>
</html>
